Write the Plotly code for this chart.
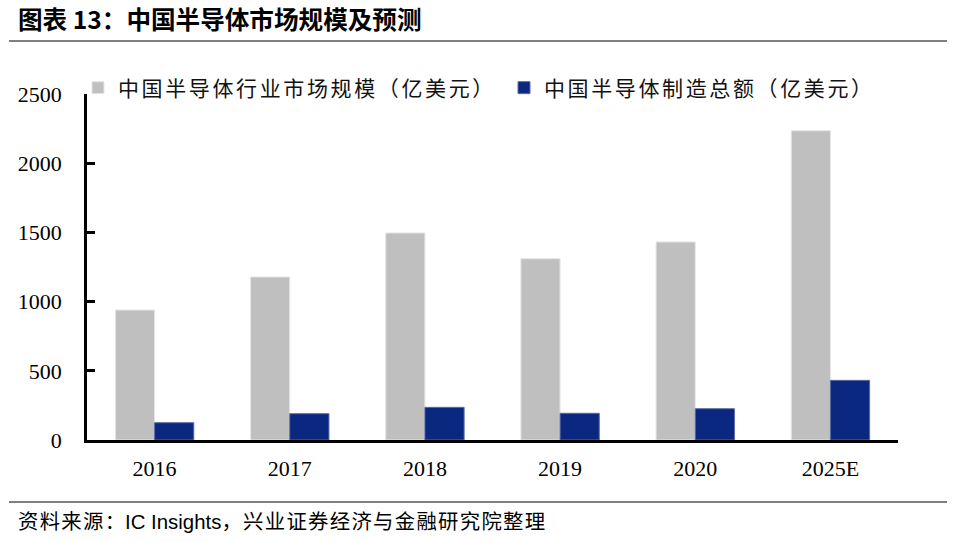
import plotly.graph_objects as go

categories = ["2016", "2017", "2018", "2019", "2020", "2025E"]
market_size = [939, 1178, 1496, 1310, 1431, 2235]
manufacturing = [125, 190, 236, 193, 226, 431]
y_ticks = [0, 500, 1000, 1500, 2000, 2500]

name_market = "中国半导体行业市场规模（亿美元）"
name_manu = "中国半导体制造总额（亿美元）"
source_pre = "资料来源："
source_brand = "IC Insights"
source_post = "，兴业证券经济与金融研究院整理"

W, H = 955, 542
L, R, T, B = 87, 57, 94, 102
pw, ph = W - L - R, H - T - B

def px_x(x):
    return (x - L) / pw

def px_y(y):
    return (H - B - y) / ph

def spaced(s, sep="\u200a"):
    return sep.join(s)

cjk = "Noto Sans CJK SC, sans-serif"
serif = "Liberation Serif, Times New Roman, serif"

fig = go.Figure()
fig.add_bar(x=categories, y=market_size, name=spaced(name_market, "\u200a\u200a"),
            marker=dict(color="#BFBFBF", line=dict(color="#E6E6E6", width=1)))
fig.add_bar(x=categories, y=manufacturing, name=spaced(name_manu, "\u200a\u200a"),
            marker=dict(color="#0A2880", line=dict(color="#5A6AA8", width=1)))

fig.update_layout(
    width=W, height=H,
    margin=dict(l=L, r=R, t=T, b=B, autoexpand=False),
    paper_bgcolor="white", plot_bgcolor="white",
    barmode="group", bargap=0.42, bargroupgap=0,
    showlegend=True,
    legend=dict(orientation="h", x=px_x(78), y=px_y(88), xanchor="left", yanchor="middle",
                font=dict(family=cjk, size=21, color="#111111"),
                entrywidth=381, entrywidthmode="pixels",
                bgcolor="rgba(0,0,0,0)", itemwidth=30, traceorder="normal"),
    xaxis=dict(showline=True, linecolor="black", linewidth=3, ticks="",
               tickfont=dict(family=serif, size=22, color="black"),
               showgrid=False, zeroline=False, ticklabelstandoff=7, automargin=False),
    yaxis=dict(range=[0, 2500], tickvals=y_ticks, showline=True, linecolor="black", linewidth=2.5,
               ticks="inside", ticklen=8, tickwidth=2.5, tickcolor="black",
               tickfont=dict(family=serif, size=22, color="black"),
               showgrid=False, zeroline=False, ticklabelstandoff=18, automargin=False),
    annotations=[
        dict(text="<b>图表 13：中国半导体市场规模及预测</b>", xref="paper", yref="paper",
             x=px_x(16), y=px_y(18), xanchor="left", yanchor="middle", showarrow=False,
             font=dict(family=cjk, size=24.6, color="black")),
        dict(text=spaced(source_pre) + "<span style='font-family:Liberation Sans, Arial'>" + source_brand
             + "</span>" + spaced(source_post),
             xref="paper", yref="paper",
             x=px_x(16), y=px_y(520), xanchor="left", yanchor="middle", showarrow=False,
             font=dict(family=cjk, size=20.4, color="black")),
    ],
    shapes=[
        dict(type="line", xref="paper", yref="paper", x0=px_x(9), x1=px_x(947),
             y0=px_y(41), y1=px_y(41), line=dict(color="black", width=1.2)),
        dict(type="line", xref="paper", yref="paper", x0=px_x(9), x1=px_x(947),
             y0=px_y(502), y1=px_y(502), line=dict(color="black", width=1.2)),
    ],
)

fig.write_html("out.html", config={"displayModeBar": False},
               post_script="document.body.style.margin='0';document.body.style.padding='0';")
